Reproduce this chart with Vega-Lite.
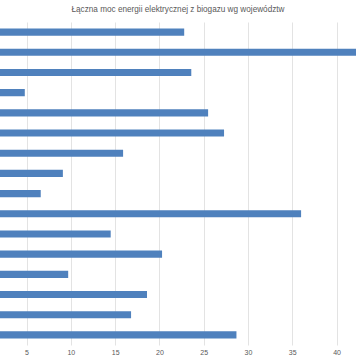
{
  "$schema": "https://vega.github.io/schema/vega-lite/v6.json",
  "width": 356,
  "height": 323,
  "autosize": "none",
  "padding": {"left": 0, "top": 22, "right": 0, "bottom": 19},
  "background": "white",
  "title": {
    "text": "Łączna moc energii elektrycznej z biogazu wg województw",
    "font": "Liberation Sans",
    "fontSize": 8.2,
    "fontWeight": "normal",
    "color": "#595959",
    "anchor": "middle",
    "offset": 8
  },
  "data": {
    "values": [
      {"woj": "zachodniopomorskie", "moc": 22.8},
      {"woj": "wielkopolskie", "moc": 44.0},
      {"woj": "warmińsko-mazurskie", "moc": 23.6},
      {"woj": "świętokrzyskie", "moc": 4.8},
      {"woj": "śląskie", "moc": 25.5},
      {"woj": "pomorskie", "moc": 27.3},
      {"woj": "podlaskie", "moc": 15.9},
      {"woj": "podkarpackie", "moc": 9.1},
      {"woj": "opolskie", "moc": 6.6},
      {"woj": "mazowieckie", "moc": 36.0},
      {"woj": "małopolskie", "moc": 14.5},
      {"woj": "łódzkie", "moc": 20.3},
      {"woj": "lubuskie", "moc": 9.7},
      {"woj": "lubelskie", "moc": 18.6},
      {"woj": "kujawsko-pomorskie", "moc": 16.8},
      {"woj": "dolnośląskie", "moc": 28.7}
    ]
  },
  "mark": {"type": "bar", "color": "#4f81bd", "clip": true},
  "encoding": {
    "y": {
      "field": "woj",
      "type": "nominal",
      "sort": null,
      "axis": null,
      "scale": {"paddingInner": 0.65, "paddingOuter": 0.325}
    },
    "x": {
      "field": "moc",
      "type": "quantitative",
      "scale": {"domain": [2.0, 42.2], "zero": false, "nice": false},
      "axis": {
        "values": [5, 10, 15, 20, 25, 30, 35, 40],
        "title": null,
        "domain": false,
        "ticks": false,
        "grid": true,
        "gridColor": "#e3e3e3",
        "gridWidth": 1,
        "labelFont": "Liberation Sans",
        "labelFontSize": 7,
        "labelColor": "#595959",
        "labelPadding": 3
      }
    }
  },
  "config": {"view": {"stroke": null}}
}
